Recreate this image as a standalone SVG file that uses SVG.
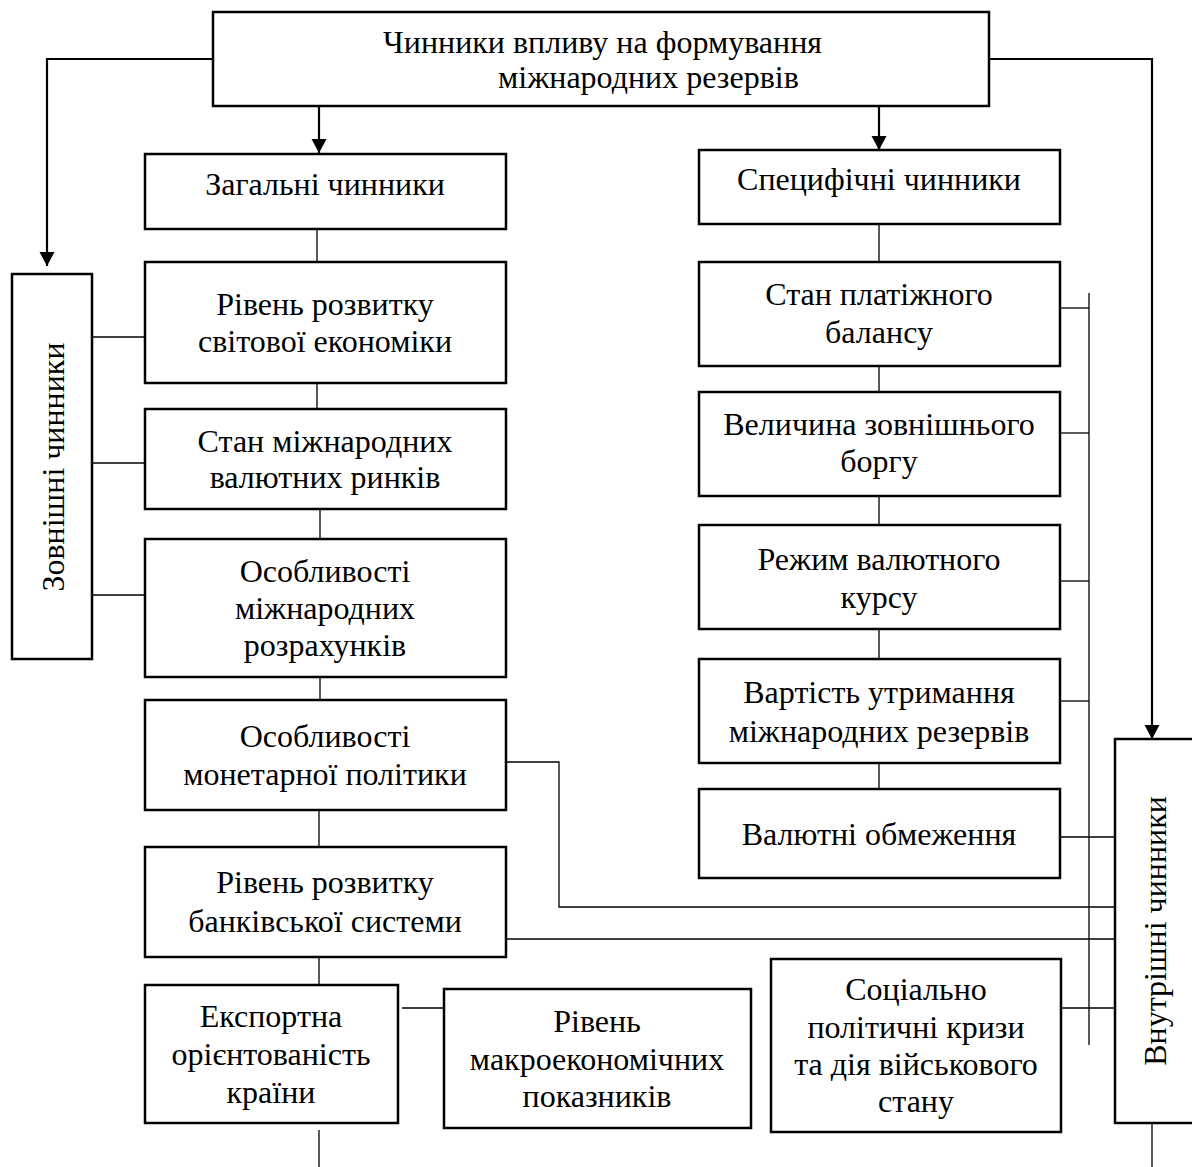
<svg xmlns="http://www.w3.org/2000/svg" width="1192" height="1167" viewBox="0 0 1192 1167">
<style>
.box{fill:#fff;stroke:#000;stroke-width:2.5}
.t{font-family:"Liberation Serif","Times New Roman",serif;font-size:32px;fill:#000;text-anchor:middle}
.ts{font-family:"Liberation Serif","Times New Roman",serif;font-size:32px;fill:#000}
.c{fill:none;stroke:#000;stroke-width:1.3}
.a{fill:none;stroke:#000;stroke-width:2.2}
</style>
<defs>
<marker id="arr" markerUnits="userSpaceOnUse" markerWidth="16" markerHeight="16" viewBox="0 0 16 16" refX="14" refY="8" orient="auto">
<path d="M0,0.5 L14,8 L0,15.5 Z" fill="#000"/>
</marker>
</defs>
<rect width="1192" height="1167" fill="#fff"/>
<g id="connectors">
<polyline class="a" points="213,59 47,59 47,266" marker-end="url(#arr)"/>
<polyline class="a" points="989,59 1152,59 1152,739" marker-end="url(#arr)"/>
<line class="a" x1="319" y1="106" x2="319" y2="153" marker-end="url(#arr)"/>
<line class="a" x1="879" y1="106" x2="879" y2="150" marker-end="url(#arr)"/>
<line class="c" x1="317" y1="229" x2="317" y2="262"/>
<line class="c" x1="317" y1="383" x2="317" y2="409"/>
<line class="c" x1="320" y1="509" x2="320" y2="539"/>
<line class="c" x1="320" y1="677" x2="320" y2="700"/>
<line class="c" x1="319" y1="810" x2="319" y2="847"/>
<line class="c" x1="319" y1="957" x2="319" y2="991"/>
<line class="c" x1="319" y1="1130" x2="319" y2="1167"/>
<line class="c" x1="92" y1="337" x2="145" y2="337"/>
<line class="c" x1="92" y1="463" x2="145" y2="463"/>
<line class="c" x1="92" y1="595" x2="145" y2="595"/>
<line class="c" x1="879" y1="224" x2="879" y2="262"/>
<line class="c" x1="879" y1="366" x2="879" y2="392"/>
<line class="c" x1="879" y1="496" x2="879" y2="525"/>
<line class="c" x1="879" y1="629" x2="879" y2="659"/>
<line class="c" x1="879" y1="763" x2="879" y2="789"/>
<line class="c" x1="1089" y1="293" x2="1089" y2="1045"/>
<line class="c" x1="1060" y1="308" x2="1089" y2="308"/>
<line class="c" x1="1060" y1="433" x2="1089" y2="433"/>
<line class="c" x1="1060" y1="581" x2="1089" y2="581"/>
<line class="c" x1="1060" y1="701" x2="1089" y2="701"/>
<line class="c" x1="1060" y1="837" x2="1115" y2="837"/>
<line class="c" x1="1061" y1="1008" x2="1115" y2="1008"/>
<polyline class="c" points="506,762 559,762 559,907 1115,907"/>
<line class="c" x1="506" y1="939" x2="1115" y2="939"/>
<line class="c" x1="402" y1="1008" x2="444" y2="1008"/>
<line class="c" x1="596" y1="1072" x2="596" y2="1111"/>
<line class="c" x1="1152" y1="1123" x2="1152" y2="1167"/>
</g>
<g id="n-top">
<rect class="box" x="213" y="12" width="776" height="94"/>
<text class="ts" x="383" y="53">Чинники впливу на формування</text>
<text class="ts" x="498" y="88">міжнародних резервів</text>
</g>
<g id="n-zagalni">
<rect class="box" x="145" y="154" width="361" height="75"/>
<text class="t" x="325" y="195">Загальні чинники</text>
</g>
<g id="n-riven-svit">
<rect class="box" x="145" y="262" width="361" height="121"/>
<text class="t" x="325" y="315">Рівень розвитку</text>
<text class="t" x="325" y="352">світової економіки</text>
</g>
<g id="n-stan-rynkiv">
<rect class="box" x="145" y="409" width="361" height="100"/>
<text class="t" x="325" y="452">Стан міжнародних</text>
<text class="t" x="325" y="488">валютних ринків</text>
</g>
<g id="n-rozrakhunky">
<rect class="box" x="145" y="539" width="361" height="138"/>
<text class="t" x="325" y="582">Особливості</text>
<text class="t" x="325" y="619">міжнародних</text>
<text class="t" x="325" y="656">розрахунків</text>
</g>
<g id="n-monetarna">
<rect class="box" x="145" y="700" width="361" height="110"/>
<text class="t" x="325" y="747">Особливості</text>
<text class="t" x="325" y="785">монетарної політики</text>
</g>
<g id="n-bank">
<rect class="box" x="145" y="847" width="361" height="110"/>
<text class="t" x="325" y="893">Рівень розвитку</text>
<text class="t" x="325" y="932">банківської системи</text>
</g>
<g id="n-eksport">
<rect class="box" x="145" y="985" width="253" height="138"/>
<text class="t" x="271" y="1027">Експортна</text>
<text class="t" x="271" y="1065">орієнтованість</text>
<text class="t" x="271" y="1103">країни</text>
</g>
<g id="n-makro">
<rect class="box" x="444" y="989" width="307" height="139"/>
<text class="t" x="597" y="1032">Рівень</text>
<text class="t" x="597" y="1070">макроекономічних</text>
<text class="t" x="597" y="1107">показників</text>
</g>
<g id="n-specyfichni">
<rect class="box" x="699" y="150" width="361" height="74"/>
<text class="t" x="879" y="190">Специфічні чинники</text>
</g>
<g id="n-platizhnyi">
<rect class="box" x="699" y="262" width="361" height="104"/>
<text class="t" x="879" y="305">Стан платіжного</text>
<text class="t" x="879" y="343">балансу</text>
</g>
<g id="n-borg">
<rect class="box" x="699" y="392" width="361" height="104"/>
<text class="t" x="879" y="435">Величина зовнішнього</text>
<text class="t" x="879" y="472">боргу</text>
</g>
<g id="n-kurs">
<rect class="box" x="699" y="525" width="361" height="104"/>
<text class="t" x="879" y="570">Режим валютного</text>
<text class="t" x="879" y="608">курсу</text>
</g>
<g id="n-vartist">
<rect class="box" x="699" y="659" width="361" height="104"/>
<text class="t" x="879" y="703">Вартість утримання</text>
<text class="t" x="879" y="742">міжнародних резервів</text>
</g>
<g id="n-obmezhennia">
<rect class="box" x="699" y="789" width="361" height="89"/>
<text class="t" x="879" y="845">Валютні обмеження</text>
</g>
<g id="n-kryzy">
<rect class="box" x="771" y="959" width="290" height="173"/>
<text class="t" x="916" y="1000">Соціально</text>
<text class="t" x="916" y="1038">політичні кризи</text>
<text class="t" x="916" y="1075">та дія військового</text>
<text class="t" x="916" y="1112">стану</text>
</g>
<g id="n-zovnishni">
<rect class="box" x="12" y="274" width="80" height="385"/>
<text class="t" transform="translate(64,467) rotate(-90)" x="0" y="0">Зовнішні чинники</text>
</g>
<g id="n-vnutrishni">
<rect class="box" x="1115" y="739" width="82" height="384"/>
<text class="t" transform="translate(1166,931) rotate(-90)" x="0" y="0">Внутрішні чинники</text>
</g>
</svg>
